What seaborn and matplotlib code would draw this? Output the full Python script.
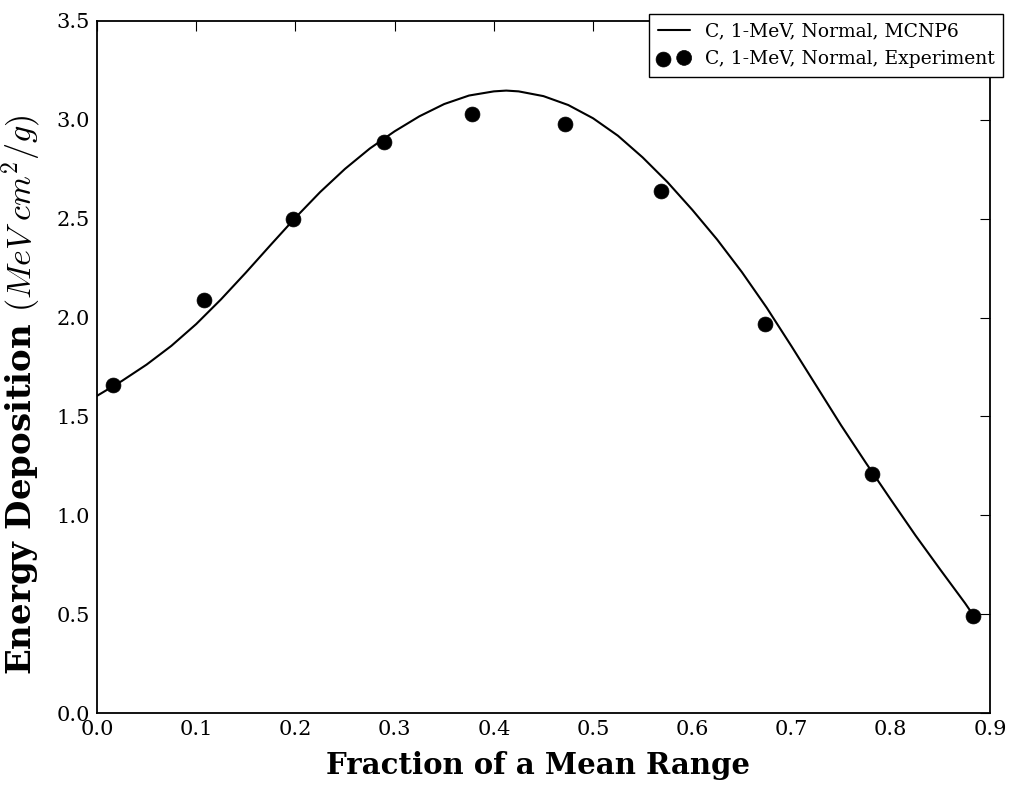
import matplotlib
matplotlib.use("Agg")
import matplotlib.pyplot as plt
import seaborn as sns
import pandas as pd

# MCNP6 energy-deposition profile (smooth simulation curve)
mcnp_x = [0.000, 0.025, 0.050, 0.075, 0.100, 0.125, 0.150, 0.175, 0.200, 0.225,
          0.250, 0.275, 0.300, 0.325, 0.350, 0.375, 0.400, 0.4125, 0.425, 0.450,
          0.475, 0.500, 0.525, 0.550, 0.575, 0.600, 0.625, 0.650, 0.675, 0.700,
          0.725, 0.750, 0.775, 0.800, 0.825, 0.850, 0.875, 0.8825]
mcnp_y = [1.604, 1.679, 1.762, 1.857, 1.967, 2.092, 2.227, 2.367, 2.505, 2.635,
          2.752, 2.855, 2.942, 3.018, 3.080, 3.123, 3.144, 3.148, 3.144, 3.120,
          3.075, 3.008, 2.920, 2.810, 2.685, 2.545, 2.395, 2.230, 2.050, 1.855,
          1.655, 1.455, 1.265, 1.080, 0.898, 0.725, 0.555, 0.500]

# Measured energy deposition
exp_x = [0.016, 0.108, 0.198, 0.289, 0.378, 0.472, 0.568, 0.673, 0.781, 0.883]
exp_y = [1.66, 2.09, 2.50, 2.89, 3.03, 2.98, 2.64, 1.97, 1.21, 0.49]

line_label = "C, 1-MeV, Normal, MCNP6"
point_label = "C, 1-MeV, Normal, Experiment"

x_ticks = [0.0, 0.1, 0.2, 0.3, 0.4, 0.5, 0.6, 0.7, 0.8, 0.9]
y_ticks = [0.0, 0.5, 1.0, 1.5, 2.0, 2.5, 3.0, 3.5]

sns.set_style("white")
plt.rcParams.update({
    "font.family": ["DejaVu Serif"],
    "mathtext.fontset": "cm",
    "text.color": "black",
    "axes.labelcolor": "black",
    "xtick.direction": "in",
    "ytick.direction": "in",
    "xtick.top": True,
    "ytick.right": True,
    "xtick.major.size": 7,
    "ytick.major.size": 7,
    "xtick.major.width": 0.8,
    "ytick.major.width": 0.8,
    "xtick.color": "black",
    "ytick.color": "black",
    "axes.edgecolor": "black",
    "axes.linewidth": 1.3,
})

fig = plt.figure(figsize=(10.12, 7.89), dpi=100)
ax = fig.add_axes([0.0958, 0.0963, 0.8824, 0.8771])

curve = pd.DataFrame({"x": mcnp_x, "y": mcnp_y})
points = pd.DataFrame({"x": exp_x, "y": exp_y})

sns.lineplot(data=curve, x="x", y="y", ax=ax, color="black", linewidth=1.5,
             label=line_label, sort=False)
sns.scatterplot(data=points, x="x", y="y", ax=ax, color="black", s=115,
                edgecolor="black", linewidth=0.5, label=point_label, zorder=3)

ax.set_xlim(0.0, 0.9)
ax.set_ylim(0.0, 3.5)
ax.set_xticks(x_ticks)
ax.set_yticks(y_ticks)
ax.set_xticklabels([f"{v:.1f}" for v in x_ticks], fontsize=15)
ax.set_yticklabels([f"{v:.1f}" for v in y_ticks], fontsize=15)
ax.tick_params(axis="both", pad=5)

ax.set_xlabel("Fraction of a Mean Range", fontsize=21, fontweight="bold")
ax.set_ylabel(r"Energy Deposition $(MeV\ cm^2/g)$", fontsize=24.5, fontweight="bold")
ax.xaxis.set_label_coords(0.494, -0.055)
ax.yaxis.set_label_coords(-0.060, 0.46)

for side in ax.spines.values():
    side.set_visible(True)
    side.set_color("black")

leg = ax.legend(loc="upper right", bbox_to_anchor=(1.0146, 1.0105),
                fontsize=13.5, frameon=True, fancybox=False, scatterpoints=2,
                handlelength=1.7, borderpad=0.45, labelspacing=0.55,
                handletextpad=0.8, borderaxespad=0.0)
leg.get_frame().set_edgecolor("black")
leg.get_frame().set_linewidth(1.0)
leg.get_frame().set_alpha(1.0)

fig.savefig("out.png", dpi=100)
